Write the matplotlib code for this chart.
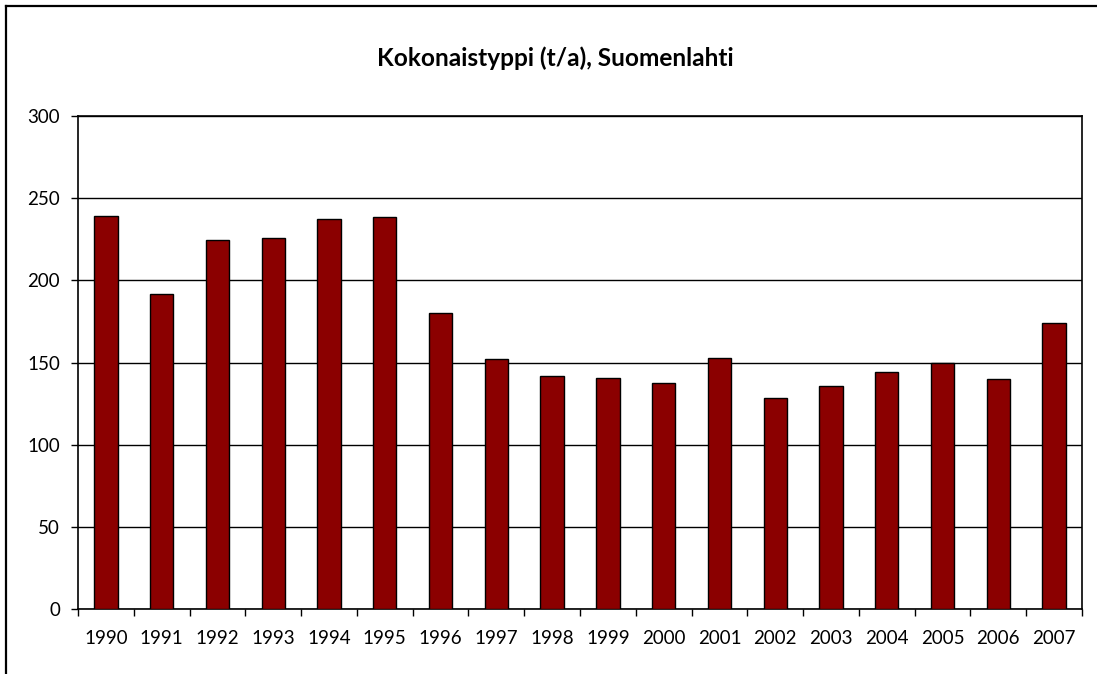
import matplotlib
matplotlib.use("Agg")
import matplotlib.pyplot as plt
from matplotlib.lines import Line2D
import numpy as np

years = ["1990", "1991", "1992", "1993", "1994", "1995", "1996", "1997", "1998",
         "1999", "2000", "2001", "2002", "2003", "2004", "2005", "2006", "2007"]
values = [239, 191.5, 224.5, 225.7, 237.4, 238.5, 180, 152.3, 142, 140.6,
          137.8, 152.9, 128.7, 135.9, 144, 150, 140.2, 174]
yticks = [0, 50, 100, 150, 200, 250, 300]
title = "Kokonaistyppi (t/a), Suomenlahti"

plt.rcParams['font.family'] = ['Lato', 'DejaVu Sans']

W, H = 1097, 674
fig = plt.figure(figsize=(W / 100, H / 100), dpi=100)
ax = fig.add_axes([78 / W, (H - 609) / H, (1082 - 78) / W, (609 - 116) / H])

x = np.arange(len(years))
ax.bar(x, values, width=0.42, color="#8B0000", edgecolor="black", linewidth=1.0, zorder=3)

ax.set_xlim(-0.5, len(years) - 0.5)
ax.set_ylim(0, 300)
ax.set_yticks(yticks)
ax.set_yticklabels([str(v) for v in yticks], fontsize=13.5)
ax.yaxis.grid(True, color="black", linewidth=1.0, zorder=0)
ax.set_axisbelow(True)

ax.set_xticks(x)
ax.set_xticklabels(years, fontsize=13.5)
ax.tick_params(axis="x", length=0, pad=15)
ax.set_xticks(np.arange(len(years) + 1) - 0.5, minor=True)
ax.tick_params(axis="x", which="minor", length=5, width=1.0, direction="out")
ax.tick_params(axis="y", length=5, width=1.0, direction="out", pad=8)

for s in ax.spines.values():
    s.set_linewidth(1.2)
    s.set_color("black")

fig.text(555 / W, 1 - 58 / H, title, ha="center", va="center", fontsize=17.6, fontweight="bold")

# outer chart border (left and top edges visible)
fig.add_artist(Line2D([6 / W, 6 / W], [0, 1 - 6 / H], transform=fig.transFigure, color="black", linewidth=1.6))
fig.add_artist(Line2D([6 / W, 1], [1 - 6 / H, 1 - 6 / H], transform=fig.transFigure, color="black", linewidth=1.6))

fig.savefig("out.png", dpi=100)
